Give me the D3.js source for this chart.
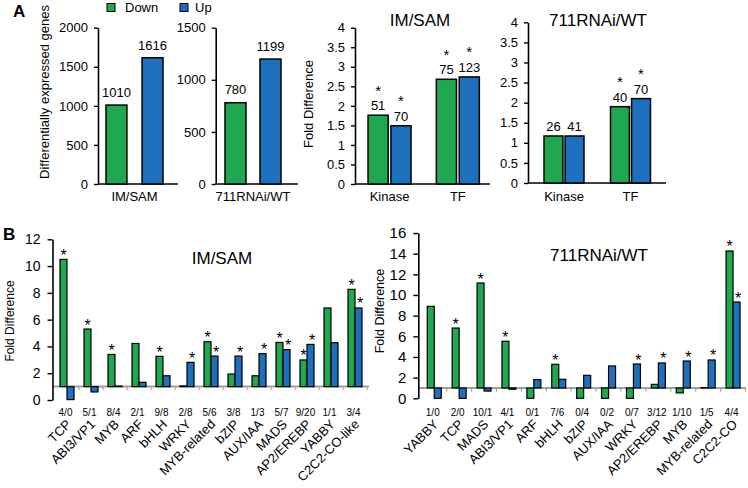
<!DOCTYPE html>
<html><head><meta charset="utf-8">
<script src="https://cdn.jsdelivr.net/npm/d3@7"></script>
<style>
body{margin:0;background:#fff}
svg{display:block}
text{font-family:"Liberation Sans",Arial,Helvetica,sans-serif;fill:#000}
</style>
</head><body>
<svg id="chart" width="748" height="488"></svg>
<script>
// ---------------- DATA ----------------
const seriesNames = ["Down", "Up"];
const seriesColors = ["#1fa84f", "#1f6fbf"];

// Panel A: differentially expressed genes
const deCatsIM = ["IM/SAM"];
const deDownIM = [1010];
const deUpIM = [1616];
const deTicksIM = [0, 500, 1000, 1500, 2000];

const deCatsRNAi = ["711RNAi/WT"];
const deDownRNAi = [780];
const deUpRNAi = [1199];
const deTicksRNAi = [0, 500, 1000, 1500];

// Panel A: fold difference of gene classes
const classCats = ["Kinase", "TF"];
const foldTicksA = [0, 0.5, 1, 1.5, 2, 2.5, 3, 3.5, 4];

const imClassDown = [1.76, 2.68];
const imClassUp = [1.49, 2.74];
const imClassCountDown = [51, 75];
const imClassCountUp = [70, 123];
const imClassSigDown = [true, true];
const imClassSigUp = [true, true];

const rnaiClassDown = [1.17, 1.9];
const rnaiClassUp = [1.17, 2.1];
const rnaiClassCountDown = [26, 40];
const rnaiClassCountUp = [41, 70];
const rnaiClassSigDown = [false, true];
const rnaiClassSigUp = [false, true];

// Panel B: IM/SAM TF families
const imFamilies = ["TCP","ABI3/VP1","MYB","ARF","bHLH","WRKY","MYB-related","bZIP","AUX/IAA","MADS","AP2/EREBP","YABBY","C2C2-CO-like"];
const imRatios = ["4/0","5/1","8/4","2/1","9/8","2/8","5/6","3/8","1/3","5/7","9/20","1/1","3/4"];
const imFamDown = [10.5, 5.3, 3.4, 4.22, 3.26, 1.05, 4.35, 1.94, 1.81, 4.3, 2.99, 6.87, 8.26];
const imFamUp = [0.03, 0.6, 1.04, 1.32, 1.81, 2.81, 3.28, 3.28, 3.46, 3.76, 4.15, 4.28, 6.87];
const imFamSigDown = [1,1,1,0,1,0,1,0,0,1,1,0,1];
const imFamSigUp = [0,0,0,0,0,1,1,1,1,1,1,0,1];
const imFoldTicks = [0, 2, 4, 6, 8, 10, 12];

// Panel B: 711RNAi/WT TF families
const rnaiFamilies = ["YABBY","TCP","MADS","ABI3/VP1","ARF","bHLH","bZIP","AUX/IAA","WRKY","AP2/EREBP","MYB","MYB-related","C2C2-CO"];
const rnaiRatios = ["1/0","2/0","10/1","4/1","0/1","7/6","0/4","0/2","0/7","3/12","1/10","1/5","4/4"];
const rnaiFamDown = [8.9, 6.8, 11.16, 5.52, 0, 3.29, 0, 0, 0, 1.35, 0.52, 1.04, 14.26];
const rnaiFamUp = [0, 0, 0.7, 0.88, 1.81, 1.84, 2.22, 3.13, 3.32, 3.42, 3.61, 3.71, 9.32];
const rnaiFamSigDown = [0,1,1,1,0,1,0,0,0,0,0,0,1];
const rnaiFamSigUp = [0,0,0,0,0,0,0,0,1,1,1,1,1];
const rnaiFoldTicks = [0, 2, 4, 6, 8, 10, 12, 14, 16];

// ---------------- DRAW ----------------
const svg = d3.select("#chart");
const FONT = '"Liberation Sans",Arial,sans-serif';

function styleAxis(g, fs) {
  g.select(".domain").attr("stroke", "#000").attr("stroke-width", 1.6);
  g.selectAll(".tick line").attr("stroke", "#000").attr("stroke-width", 1.4);
  g.selectAll(".tick text").attr("font-size", fs).attr("font-family", FONT).attr("fill", "#000");
}

// Panel A bar chart (with optional count labels & stars)
function drawPanelA(o) {
  const g = svg.append("g");
  const y = d3.scaleLinear().domain([o.ticks[0], o.ticks[o.ticks.length - 1]]).range([o.y0, o.y1]);
  const x0 = d3.scaleBand().domain(o.cats).range(o.xRange);
  const ax = g.append("g").attr("transform", `translate(${o.axisX},0)`)
    .call(d3.axisLeft(y).tickValues(o.ticks).tickFormat(d3.format("")).tickSize(4).tickPadding(6).tickSizeOuter(0));
  styleAxis(ax, 13);
  g.append("line").attr("x1", o.axisX).attr("x2", o.axisEnd).attr("y1", y(0)).attr("y2", y(0))
    .attr("stroke", "#000").attr("stroke-width", 1.6);
  o.cats.forEach((c, i) => {
    const cx = x0(c) + x0.bandwidth() / 2;
    const x1 = d3.scaleBand().domain(seriesNames).range([cx - o.pairHalf, cx + o.pairHalf]).paddingInner(o.innerPad);
    const vals = [o.down[i], o.up[i]];
    const labels = o.countDown ? [o.countDown[i], o.countUp[i]] : [o.down[i], o.up[i]];
    const sigs = o.sigDown ? [o.sigDown[i], o.sigUp[i]] : [false, false];
    seriesNames.forEach((s, k) => {
      const bx = x1(s), bw = x1.bandwidth();
      g.append("rect").attr("x", bx).attr("y", y(vals[k])).attr("width", bw).attr("height", y(0) - y(vals[k]))
        .attr("fill", seriesColors[k]).attr("stroke", "#000").attr("stroke-width", 1.5);
      const lb = y(vals[k]) - o.labelGap;
      g.append("text").attr("x", bx + bw / 2).attr("y", lb).attr("text-anchor", "middle")
        .attr("font-size", 13).text(labels[k]);
      if (sigs[k]) {
        g.append("text").attr("x", bx + bw / 2).attr("y", lb - 14.5).attr("text-anchor", "middle")
          .attr("font-size", 15).text("*");
      }
    });
    g.append("text").attr("x", cx).attr("y", 201).attr("text-anchor", "middle").attr("font-size", 13).text(c);
  });
}

drawPanelA({cats: deCatsIM, down: deDownIM, up: deUpIM, ticks: deTicksIM, y0: 184, y1: 27.7,
  axisX: 98, axisEnd: 178, xRange: [98, 171], pairHalf: 28.5, innerPad: 0.42, labelGap: 8});
drawPanelA({cats: deCatsRNAi, down: deDownRNAi, up: deUpRNAi, ticks: deTicksRNAi, y0: 184, y1: 27.7,
  axisX: 215.7, axisEnd: 298, xRange: [215.7, 290.3], pairHalf: 28, innerPad: 0.4, labelGap: 8.5});
drawPanelA({cats: classCats, down: imClassDown, up: imClassUp, countDown: imClassCountDown, countUp: imClassCountUp,
  sigDown: imClassSigDown, sigUp: imClassSigUp, ticks: foldTicksA, y0: 184, y1: 27.7,
  axisX: 355, axisEnd: 490, xRange: [355.4, 492], pairHalf: 21.5, innerPad: 0.12, labelGap: 5});
drawPanelA({cats: classCats, down: rnaiClassDown, up: rnaiClassUp, countDown: rnaiClassCountDown, countUp: rnaiClassCountUp,
  sigDown: rnaiClassSigDown, sigUp: rnaiClassSigUp, ticks: foldTicksA, y0: 183, y1: 22.3,
  axisX: 528, axisEnd: 666, xRange: [530.75, 663.75], pairHalf: 20, innerPad: 0.1, labelGap: 5});

// Panel A titles / labels
svg.append("text").attr("x", 13).attr("y", 17).attr("font-size", 17).attr("font-weight", "bold").text("A");
svg.append("text").attr("x", 420).attr("y", 26).attr("text-anchor", "middle").attr("font-size", 17).text("IM/SAM");
svg.append("text").attr("x", 598).attr("y", 26).attr("text-anchor", "middle").attr("font-size", 17).text("711RNAi/WT");
svg.append("text").attr("transform", "translate(49,92) rotate(-90)").attr("text-anchor", "middle")
  .attr("font-size", 13).text("Differentially expressed genes");
svg.append("text").attr("transform", "translate(313,104) rotate(-90)").attr("text-anchor", "middle")
  .attr("font-size", 13).text("Fold Difference");

// Legend
const legX = [107, 180], legTX = [125, 195];
seriesNames.forEach((s, k) => {
  svg.append("rect").attr("x", legX[k]).attr("y", 3.5).attr("width", 8).attr("height", 8)
    .attr("fill", seriesColors[k]).attr("stroke", "#000").attr("stroke-width", 1);
  svg.append("text").attr("x", legTX[k]).attr("y", 12).attr("font-size", 13).text(s);
});

// Panel B chart
function drawPanelB(o) {
  const g = svg.append("g");
  const y = d3.scaleLinear().domain([o.ticks[0], o.ticks[o.ticks.length - 1]]).range([o.y0, o.y1]);
  const x = d3.scaleBand().domain(o.cats).range(o.xRange);
  const base = y(1);
  g.append("line").attr("x1", o.axisX).attr("x2", o.axisEnd).attr("y1", base).attr("y2", base)
    .attr("stroke", "#a0a0a0").attr("stroke-width", 2);
  o.cats.forEach((c) => {
    const bx = x(c) + x.bandwidth();
    g.append("line").attr("x1", bx).attr("x2", bx).attr("y1", base).attr("y2", base + 3.5)
      .attr("stroke", "#a0a0a0").attr("stroke-width", 1.2);
  });
  o.cats.forEach((c, i) => {
    const cx = x(c) + x.bandwidth() / 2;
    const x1 = d3.scaleBand().domain(seriesNames).range([cx - 7, cx + 7]);
    const vals = [o.down[i], o.up[i]];
    const sigs = [o.sigDown[i], o.sigUp[i]];
    seriesNames.forEach((s, k) => {
      const v = vals[k];
      const top = Math.min(y(v), base), bot = Math.max(y(v), base);
      g.append("rect").attr("x", x1(s)).attr("y", top).attr("width", x1.bandwidth()).attr("height", Math.max(bot - top, 0.4))
        .attr("fill", seriesColors[k]).attr("stroke", "#000").attr("stroke-width", 1.2);
      if (sigs[k]) {
        g.append("text").attr("x", x1(s) + x1.bandwidth() / 2 + (k === 1 ? 1.5 : 0)).attr("y", top + 1.5)
          .attr("text-anchor", "middle").attr("font-size", 16).text("*");
      }
    });
    g.append("text").attr("x", cx - 1.5).attr("y", 416).attr("text-anchor", "middle").attr("font-size", 10).text(o.ratios[i]);
    g.append("text").attr("transform", `translate(${cx + 5},${425}) rotate(-45)`).attr("text-anchor", "end")
      .attr("font-size", 13).text(c);
  });
  const ax = g.append("g").attr("transform", `translate(${o.axisX},0)`)
    .call(d3.axisLeft(y).tickValues(o.ticks).tickFormat(d3.format("")).tickSize(5).tickPadding(7).tickSizeOuter(0));
  styleAxis(ax, o.tickFont);
  g.append("text").attr("x", o.titleX).attr("y", o.titleY).attr("text-anchor", "middle").attr("font-size", 17).text(o.title);
  g.append("text").attr("transform", `translate(${o.yTitleX},${o.yTitleY}) rotate(-90)`).attr("text-anchor", "middle")
    .attr("font-size", o.yTitleFont).text("Fold Difference");
}

drawPanelB({cats: imFamilies, ratios: imRatios, down: imFamDown, up: imFamUp, sigDown: imFamSigDown, sigUp: imFamSigUp,
  ticks: imFoldTicks, y0: 400, y1: 239.3, axisX: 52.5, axisEnd: 369, xRange: [55, 367], tickFont: 14,
  title: "IM/SAM", titleX: 222, titleY: 264, yTitleX: 14, yTitleY: 321, yTitleFont: 12});
drawPanelB({cats: rnaiFamilies, ratios: rnaiRatios, down: rnaiFamDown, up: rnaiFamUp, sigDown: rnaiFamSigDown, sigUp: rnaiFamSigUp,
  ticks: rnaiFoldTicks, y0: 398.3, y1: 233, axisX: 418.3, axisEnd: 746, xRange: [421.8, 745.5], tickFont: 15,
  title: "711RNAi/WT", titleX: 599, titleY: 261, yTitleX: 384, yTitleY: 311, yTitleFont: 12.5});

svg.append("text").attr("x", 3).attr("y", 240).attr("font-size", 17).attr("font-weight", "bold").text("B");
</script>
</body></html>
